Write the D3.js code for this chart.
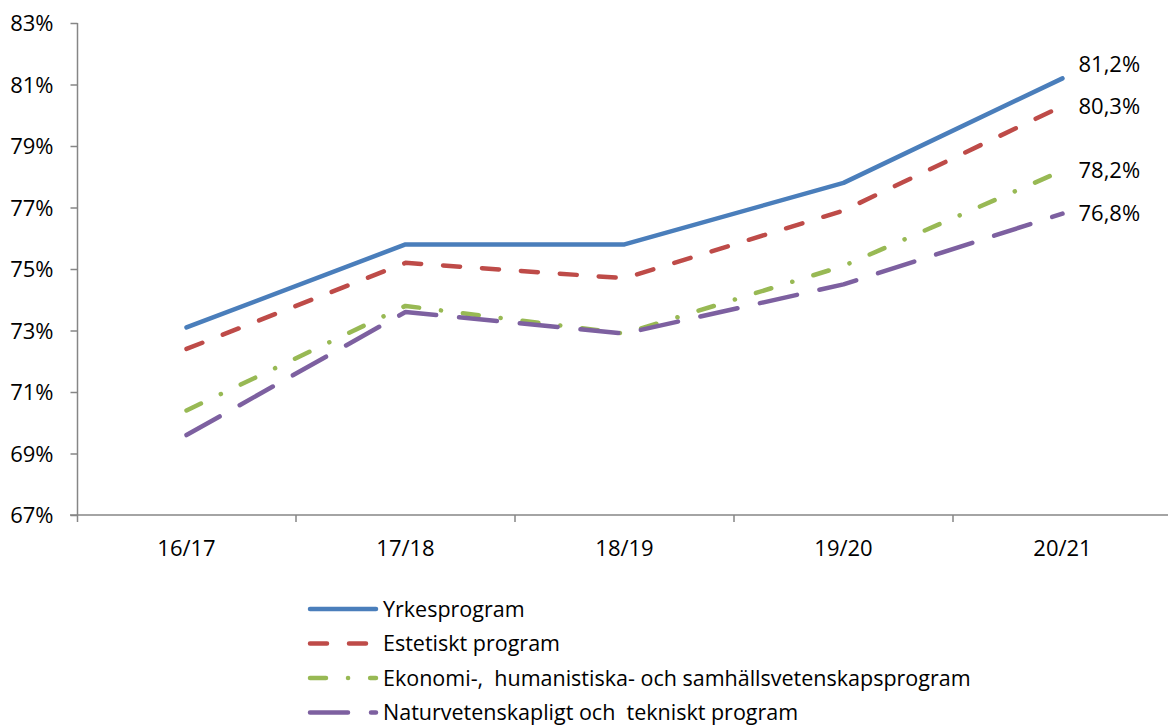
<!DOCTYPE html>
<html>
<head>
<meta charset="utf-8">
<script src="https://cdn.jsdelivr.net/npm/d3@7"></script>
<style>
  body { margin: 0; background: #fff; }
  svg text { font-family: "Open Sans", sans-serif; fill: #000; white-space: pre; }
</style>
</head>
<body>
<svg id="chart" width="1168" height="727"></svg>
<script>
// Data
const years = ["16/17", "17/18", "18/19", "19/20", "20/21"];
const yrkes = [73.1, 75.8, 75.8, 77.8, 81.2];
const estetiskt = [72.4, 75.2, 74.7, 76.9, 80.3];
const ekonomi = [70.4, 73.8, 72.9, 75.1, 78.2];
const natur = [69.6, 73.6, 72.9, 74.5, 76.8];
const seriesNames = [
  "Yrkesprogram",
  "Estetiskt program",
  "Ekonomi-,  humanistiska- och samhällsvetenskapsprogram",
  "Naturvetenskapligt och  tekniskt program"
];
const endLabels = ["81,2%", "80,3%", "78,2%", "76,8%"];
const yTicks = [67, 69, 71, 73, 75, 77, 79, 81, 83];

const series = [
  { name: seriesNames[0], values: yrkes, color: "#4a7ebb", dash: null, label: endLabels[0], dy: -14 },
  { name: seriesNames[1], values: estetiskt, color: "#be4b48", dash: "17,22", label: endLabels[1], dy: 0 },
  { name: seriesNames[2], values: ekonomi, color: "#98b954", dash: "16,22,0.1,22", label: endLabels[2], dy: 0 },
  { name: seriesNames[3], values: natur, color: "#7d60a0", dash: "38,23", label: endLabels[3], dy: 0 }
];

const svg = d3.select("#chart");
const axisColor = "#868686";
const fontSize = "22px";

const x = d3.scaleBand().domain(years).range([77, 1172]);
const y = d3.scaleLinear().domain([67, 83]).range([515, 23]);
const cx = (d) => x(d) + x.bandwidth() / 2;

// y axis
const yAxis = svg.append("g").attr("transform", "translate(77.5,0)")
  .call(d3.axisLeft(y).tickValues(yTicks).tickSize(7).tickPadding(17).tickFormat((d) => d + "%"));
yAxis.select(".domain").attr("stroke", axisColor).attr("stroke-width", 1.5).attr("d", "M0,23V515");
yAxis.selectAll(".tick line").attr("stroke", axisColor).attr("stroke-width", 1.5);
yAxis.selectAll(".tick text").style("font-size", fontSize).attr("dy", "0.35em");

// x axis
const xAxis = svg.append("g").attr("transform", "translate(0,515)");
xAxis.append("line").attr("x1", 70).attr("x2", 1168).attr("stroke", axisColor).attr("stroke-width", 1.5);
const bounds = years.map((d) => x(d)).slice(1).concat([x(years[years.length - 1]) + x.bandwidth()]);
xAxis.selectAll(".xt").data(bounds).enter().append("line")
  .attr("x1", (d) => d).attr("x2", (d) => d).attr("y1", 0).attr("y2", 7)
  .attr("stroke", axisColor).attr("stroke-width", 1.5);
xAxis.append("line").attr("x1", 77.5).attr("x2", 77.5).attr("y1", 0).attr("y2", 7)
  .attr("stroke", axisColor).attr("stroke-width", 1.5);
xAxis.selectAll(".xl").data(years).enter().append("text")
  .attr("x", cx).attr("y", 41).attr("text-anchor", "middle")
  .style("font-size", fontSize).text((d) => d);

// lines
const line = d3.line().x((d, i) => cx(years[i])).y((d) => y(d));
series.forEach((s) => {
  svg.append("path").datum(s.values)
    .attr("d", line).attr("fill", "none")
    .attr("stroke", s.color).attr("stroke-width", 4.5)
    .attr("stroke-linecap", "round").attr("stroke-linejoin", "round")
    .attr("stroke-dasharray", s.dash);
  const last = s.values[s.values.length - 1];
  svg.append("text")
    .attr("x", cx(years[years.length - 1]) + 16)
    .attr("y", y(last) + s.dy).attr("dy", "0.35em")
    .style("font-size", fontSize).text(s.label);
});

// legend
const legend = svg.append("g").attr("transform", "translate(308,609)");
series.forEach((s, i) => {
  const g = legend.append("g").attr("transform", `translate(0,${i * 34.5})`);
  g.append("line").attr("x1", 2).attr("x2", 68)
    .attr("stroke", s.color).attr("stroke-width", 4.5)
    .attr("stroke-linecap", "round").attr("stroke-dasharray", s.dash);
  g.append("text").attr("x", 75).attr("dy", "0.35em")
    .style("font-size", "21.5px").text(s.name);
});
</script>
</body>
</html>
